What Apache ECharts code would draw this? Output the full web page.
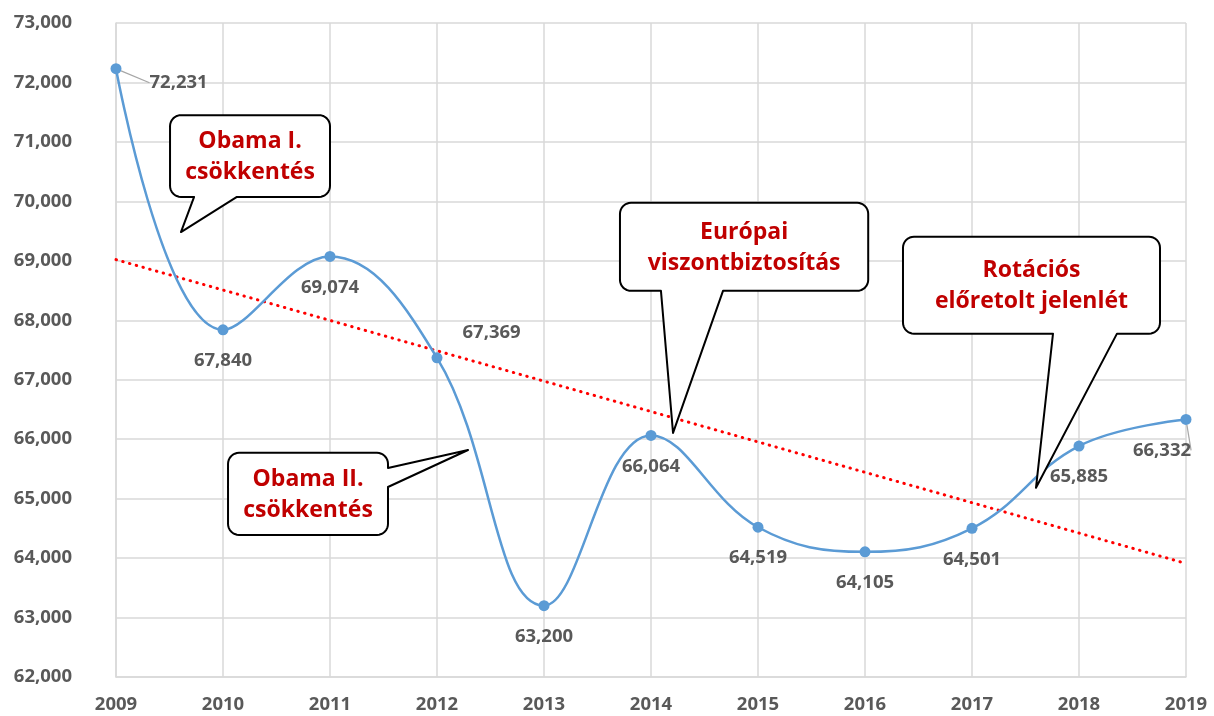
<!DOCTYPE html>
<html>
<head>
<meta charset="utf-8">
<script src="https://cdn.jsdelivr.net/npm/echarts@6/dist/echarts.min.js"></script>
<style>
  html, body { margin: 0; padding: 0; background: #ffffff; }
  #chart { width: 1214px; height: 716px; }
</style>
</head>
<body>
<div id="chart"></div>
<script>
// Annual values
const years = ['2009', '2010', '2011', '2012', '2013', '2014', '2015', '2016', '2017', '2018', '2019'];
const values = [72231, 67840, 69074, 67369, 63200, 66064, 64519, 64105, 64501, 65885, 66332];
// Linear trend, value at the first and last year
const trendEnds = [69020, 63910];
// Value axis range
const yMin = 62000;
const yMax = 73000;
const yStep = 1000;
// Callout texts
const calloutTexts = [
  ['Obama I.', 'csökkentés'],
  ['Obama II.', 'csökkentés'],
  ['Európai', 'viszontbiztosítás'],
  ['Rotációs', 'előretolt jelenlét']
];

// Callout layout in data units: box [x0, yTop, x1, yBottom], tail side, tail base, tail tip [x, y]
const calloutLayout = [
  { box: [0.505, 71450, 2.0, 70075], side: 'bottom', base: [0.73, 1.13], tip: [0.607, 69484] },
  { box: [1.047, 65770, 2.542, 64390], side: 'right', base: [65515, 65196], tip: [3.29, 65818] },
  { box: [4.71, 69975, 7.03, 68495], side: 'bottom', base: [5.093, 5.673], tip: [5.206, 66105] },
  { box: [7.355, 69405, 9.757, 67775], side: 'bottom', base: [8.757, 9.355], tip: [8.598, 65182] }
];

const FONT = '"Open Sans", "Liberation Sans", sans-serif';
const GREY_TEXT = '#595959';
const GRID = '#d9d9d9';

const trendData = years.map((_, i) => i === 0 ? trendEnds[0] : (i === years.length - 1 ? trendEnds[1] : null));

// Individual label placement per point
const labelPlacement = {
  0: { position: 'right', dx: 12, dy: 14, line: true },
  3: { position: 'right', dx: 4, dy: -25 },
  10: { position: 'bottom', dx: -24, dy: 0, line: true }
};

const seriesData = values.map((v, i) => {
  const p = labelPlacement[i];
  const item = { value: v };
  if (p) {
    item.label = { position: p.position };
    item.labelLine = { show: !!p.line };
  }
  return item;
});

const chart = echarts.init(document.getElementById('chart'), null, { renderer: 'canvas' });

chart.setOption({
  backgroundColor: '#ffffff',
  animation: false,
  grid: { left: 116, right: 28, top: 23, bottom: 39, containLabel: false },
  xAxis: {
    type: 'category',
    data: years,
    boundaryGap: false,
    axisLine: { show: true, lineStyle: { color: GRID, width: 1.5 } },
    axisTick: { show: false },
    splitLine: { show: true, lineStyle: { color: GRID, width: 1.5 } },
    axisLabel: { color: GREY_TEXT, fontSize: 18.5, fontWeight: 'bold', fontFamily: FONT, margin: 18 }
  },
  yAxis: {
    type: 'value',
    min: yMin,
    max: yMax,
    interval: yStep,
    axisLine: { show: true, lineStyle: { color: GRID, width: 1.5 } },
    axisTick: { show: false },
    splitLine: { show: true, lineStyle: { color: GRID, width: 1.5 } },
    axisLabel: {
      color: GREY_TEXT, fontSize: 18.5, fontWeight: 'bold', fontFamily: FONT, margin: 44,
      formatter: v => v.toLocaleString('en-US')
    }
  },
  series: [
    {
      name: 'trend',
      type: 'line',
      data: trendData,
      connectNulls: true,
      symbol: 'none',
      silent: true,
      z: 1,
      lineStyle: { color: '#ff0000', width: 3, type: [0.5, 6.5], cap: 'round' }
    },
    {
      name: 'value',
      type: 'line',
      data: seriesData,
      smooth: 0.4,
      symbol: 'circle',
      symbolSize: 11,
      z: 3,
      itemStyle: { color: '#5b9bd5' },
      lineStyle: { color: '#5b9bd5', width: 2.5 },
      label: {
        show: true,
        position: 'bottom',
        distance: 16,
        color: GREY_TEXT,
        fontSize: 18.5,
        fontWeight: 'bold',
        fontFamily: FONT,
        formatter: p => p.value.toLocaleString('en-US')
      },
      labelLine: { show: false, lineStyle: { color: '#a6a6a6', width: 1.2 } },
      labelLayout: params => {
        const p = labelPlacement[params.dataIndex];
        return p ? { dx: p.dx, dy: p.dy } : {};
      }
    }
  ]
});

// Map data units to pixels; category positions are interpolated for fractional indices
function toPx(x, y) {
  const a = chart.convertToPixel({ gridIndex: 0 }, [0, yMin]);
  const b = chart.convertToPixel({ gridIndex: 0 }, [years.length - 1, yMax]);
  const px = a[0] + (b[0] - a[0]) * x / (years.length - 1);
  const py = a[1] + (b[1] - a[1]) * (y - yMin) / (yMax - yMin);
  return [px, py];
}

// Quarter arc of a rounded corner, as polygon points
function arcPoints(cx, cy, r, a0, a1) {
  const pts = [];
  const n = 8;
  for (let k = 0; k <= n; k++) {
    const a = a0 + (a1 - a0) * k / n;
    pts.push([cx + r * Math.cos(a), cy + r * Math.sin(a)]);
  }
  return pts;
}

// Outline of a rounded box with a pointer tail, clockwise from the top-left corner
function calloutOutline(c) {
  const tl = toPx(c.box[0], c.box[1]);
  const br = toPx(c.box[2], c.box[3]);
  const x0 = tl[0], y0 = tl[1], x1 = br[0], y1 = br[1];
  const r = 11;
  const PI = Math.PI;
  const tip = toPx(c.tip[0], c.tip[1]);
  let pts = [];
  pts = pts.concat(arcPoints(x0 + r, y0 + r, r, PI, 1.5 * PI));
  pts = pts.concat(arcPoints(x1 - r, y0 + r, r, 1.5 * PI, 2 * PI));
  if (c.side === 'right') {
    const ya = toPx(0, c.base[0])[1];
    const yb = toPx(0, c.base[1])[1];
    pts.push([x1, ya], tip, [x1, yb]);
  }
  pts = pts.concat(arcPoints(x1 - r, y1 - r, r, 0, 0.5 * PI));
  if (c.side === 'bottom') {
    const xa = toPx(c.base[0], 0)[0];
    const xb = toPx(c.base[1], 0)[0];
    pts.push([xb, y1], tip, [xa, y1]);
  }
  pts = pts.concat(arcPoints(x0 + r, y1 - r, r, 0.5 * PI, PI));
  return { pts, cx: (x0 + x1) / 2, cy: (y0 + y1) / 2 };
}

const graphics = [];
calloutLayout.forEach((c, i) => {
  const g = calloutOutline(c);
  graphics.push({
    type: 'polygon',
    z: 100,
    shape: { points: g.pts },
    style: { fill: '#ffffff', stroke: '#000000', lineWidth: 2, lineJoin: 'round' }
  });
  graphics.push({
    type: 'text',
    z: 101,
    x: g.cx,
    y: g.cy + 1,
    style: {
      text: calloutTexts[i].join('\n'),
      fill: '#c00000',
      font: 'bold 23px ' + FONT,
      align: 'center',
      verticalAlign: 'middle',
      lineHeight: 31
    }
  });
});

chart.setOption({ graphic: graphics });
</script>
</body>
</html>
